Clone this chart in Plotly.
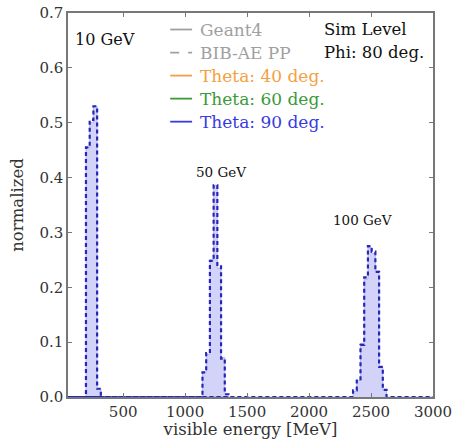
import plotly.graph_objects as go
import numpy as np

# ---- data ----
bin_width = 30
# Geant4 (filled) histograms, left bin edges and heights
g4_edges_10 = [200, 230, 260, 290]
g4_vals_10 = [0.455, 0.500, 0.530, 0.015]
g4_edges_50 = [1140, 1170, 1200, 1230, 1260, 1290, 1320]
g4_vals_50 = [0.045, 0.078, 0.250, 0.386, 0.235, 0.072, 0.005]
g4_edges_100 = [2355, 2385, 2415, 2445, 2475, 2505, 2535, 2565, 2595]
g4_vals_100 = [0.010, 0.030, 0.098, 0.215, 0.273, 0.262, 0.230, 0.055, 0.013]
# BIB-AE PP (dashed) histograms
ae_vals_10 = [0.455, 0.505, 0.530, 0.015]
ae_vals_50 = [0.045, 0.080, 0.248, 0.386, 0.238, 0.070, 0.005]
ae_vals_100 = [0.012, 0.030, 0.095, 0.218, 0.275, 0.265, 0.228, 0.055, 0.013]

x_range = [55, 3000]
y_range = [0, 0.7]
x_ticks = [500, 1000, 1500, 2000, 2500, 3000]
y_ticks = [0.0, 0.1, 0.2, 0.3, 0.4, 0.5, 0.6, 0.7]
peak_labels = ["10 GeV", "50 GeV", "100 GeV"]
peak_label_pos = [(95, 0.652), (1074, 0.41), (2181, 0.323)]
peak_label_size = [16, 13.5, 13.5]
legend_entries = ["Geant4", "BIB-AE PP", "Theta: 40 deg.", "Theta: 60 deg.", "Theta: 90 deg."]
legend_colors = ["#a0a0a0", "#a0a0a0", "#f5a040", "#3a9a3a", "#3a3ae0"]
legend_dash = ["solid", "dash", "solid", "solid", "solid"]
info_text = ["Sim Level", "Phi: 80 deg."]


def step_xy(edges, vals):
    xs, ys = [x_range[0]], [0.0]
    for e, v in zip(edges, vals):
        xs += [e, e, e + bin_width]
        ys += [ys[-1], v, v]
    last = edges[-1] + bin_width
    xs += [last]
    ys += [0.0]
    return xs, ys


def full_step(groups):
    xs, ys = [], []
    for edges, vals in groups:
        gx, gy = step_xy(edges, vals)
        xs += gx
        ys += gy
    xs += [x_range[1]]
    ys += [0.0]
    return xs, ys


g4x, g4y = full_step([(g4_edges_10, g4_vals_10), (g4_edges_50, g4_vals_50), (g4_edges_100, g4_vals_100)])
aex, aey = full_step([(g4_edges_10, ae_vals_10), (g4_edges_50, ae_vals_50), (g4_edges_100, ae_vals_100)])

FONT = "DejaVu Serif"
fig = go.Figure()
fig.add_trace(go.Scatter(x=g4x, y=g4y, mode="lines", fill="tozeroy",
                         fillcolor="rgba(120,120,240,0.33)",
                         line=dict(color="rgba(150,150,240,0.6)", width=1),
                         showlegend=False, hoverinfo="skip"))
fig.add_trace(go.Scatter(x=aex, y=aey, mode="lines",
                         line=dict(color="#2626b8", width=2.2, dash="4px,3px"),
                         showlegend=False, hoverinfo="skip"))

annotations = []
for txt, (px, py), sz in zip(peak_labels, peak_label_pos, peak_label_size):
    annotations.append(dict(x=px, y=py, xref="x", yref="y", text=txt, showarrow=False,
                            xanchor="left", yanchor="middle",
                            font=dict(family=FONT, size=sz, color="#111111")))

shapes = []
leg_x0, leg_x1, leg_tx = 0.28, 0.34, 0.355
leg_y0, leg_dy = 0.957, 0.060
for i, (t, c, d) in enumerate(zip(legend_entries, legend_colors, legend_dash)):
    yy = leg_y0 - i * leg_dy
    shapes.append(dict(type="line", xref="paper", yref="paper", x0=leg_x0, x1=leg_x1,
                       y0=yy, y1=yy, line=dict(color=c, width=1.8, dash=d)))
    annotations.append(dict(x=leg_tx, y=yy, xref="paper", yref="paper", text=t,
                            showarrow=False, xanchor="left", yanchor="middle",
                            font=dict(family=FONT, size=17, color=c)))
for i, t in enumerate(info_text):
    annotations.append(dict(x=0.695, y=leg_y0 - i * leg_dy, xref="paper", yref="paper", text=t,
                            showarrow=False, xanchor="left", yanchor="middle",
                            font=dict(family=FONT, size=16.5, color="#111111")))

axis_common = dict(showgrid=False, zeroline=False, showline=True, linecolor="#777777",
                   linewidth=1.5, mirror="ticks", ticks="inside", ticklen=4,
                   tickcolor="#777777", automargin=False,
                   tickfont=dict(family=FONT, size=15, color="#333333"))

fig.update_layout(
    width=454, height=439,
    margin=dict(l=68, r=21, t=13, b=42, autoexpand=False),
    paper_bgcolor="white", plot_bgcolor="white",
    xaxis=dict(range=x_range, tickvals=x_ticks, ticktext=[str(v) for v in x_ticks],
               title=dict(text="visible energy [MeV]", standoff=0,
                          font=dict(family=FONT, size=16.5, color="#333333")),
               **axis_common),
    yaxis=dict(range=y_range, tickvals=y_ticks, ticktext=["%.1f" % v for v in y_ticks],
               title=dict(text="normalized", standoff=12,
                          font=dict(family=FONT, size=16.5, color="#333333")),
               **axis_common),
    annotations=annotations, shapes=shapes,
)

fig.write_html("out.html")
